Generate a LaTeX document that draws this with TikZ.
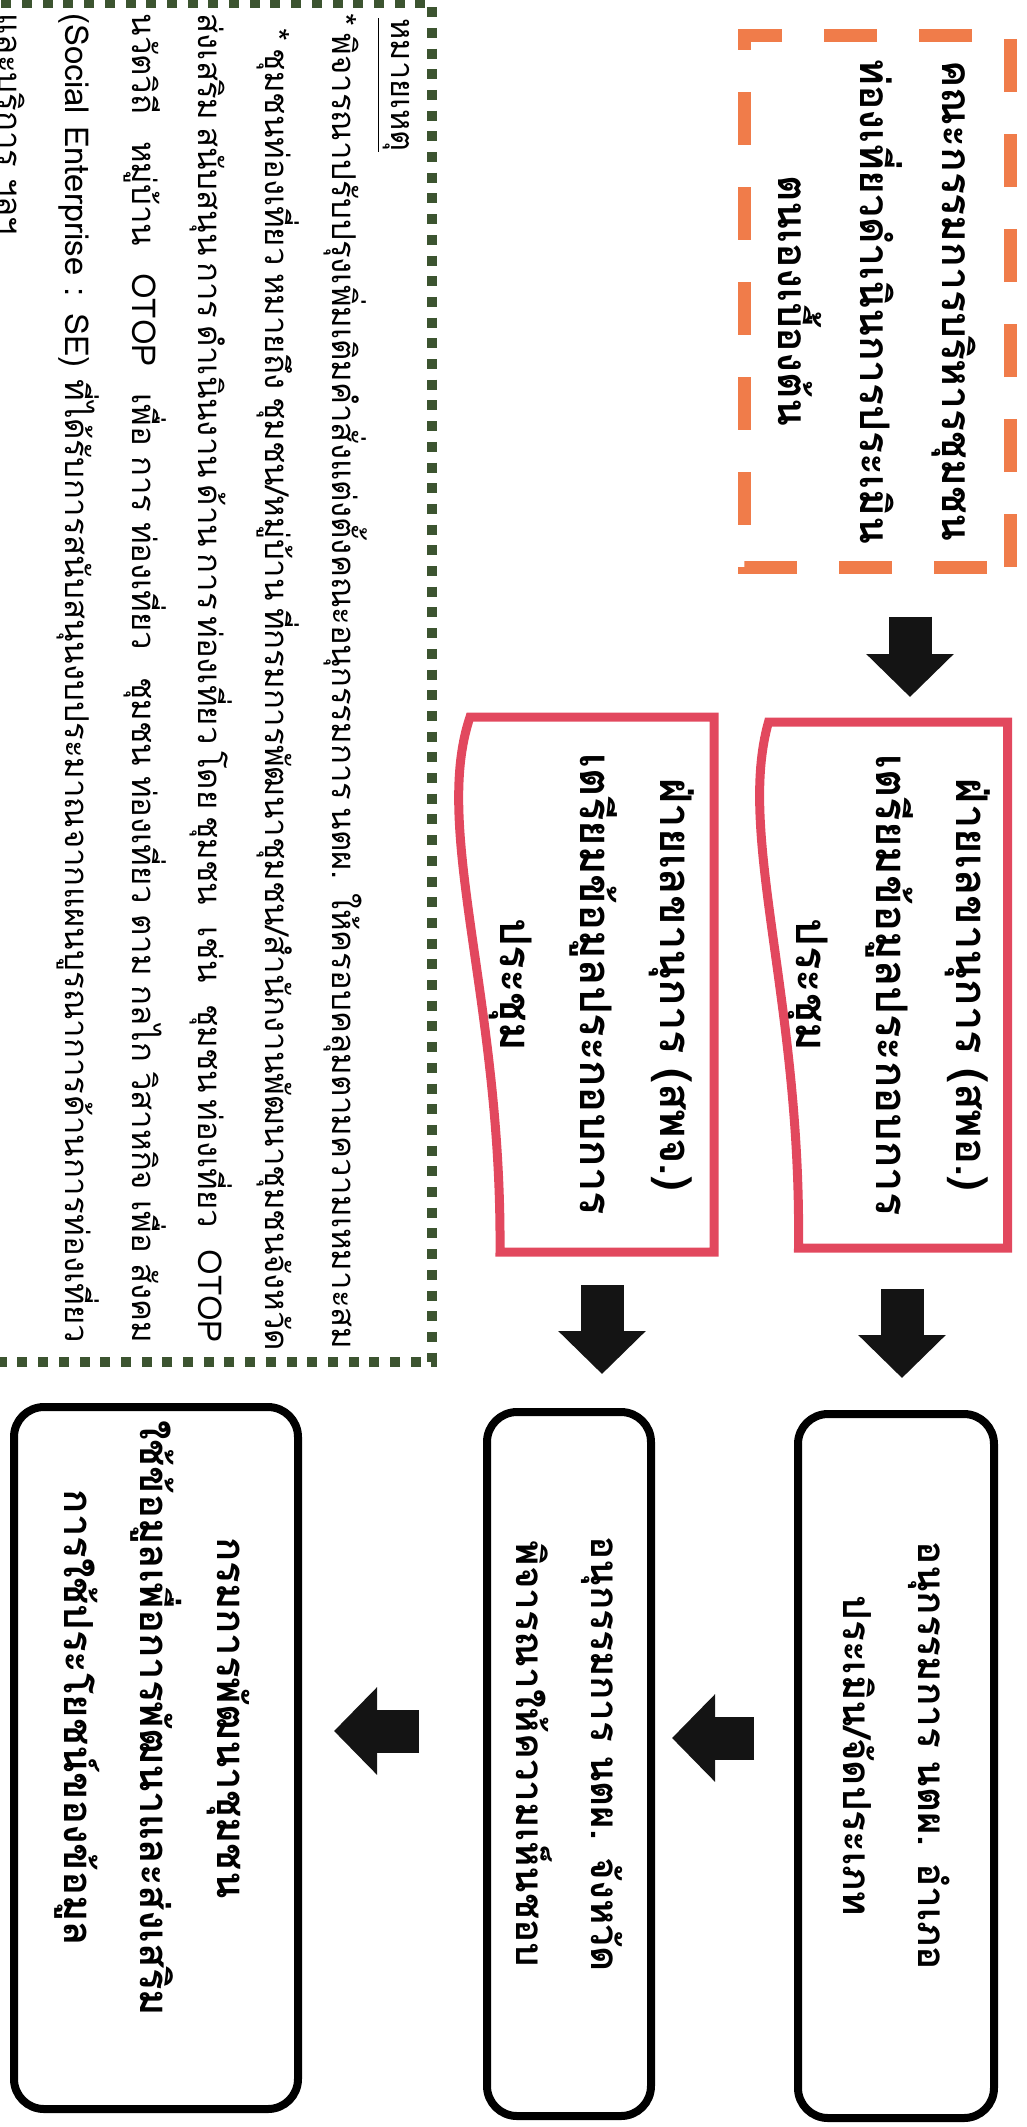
\documentclass[tikz,border=0pt]{standalone}
\usepackage{fontspec}
\setmainfont[Script=Thai]{Loma}
\usetikzlibrary{calc,arrows.meta}
\definecolor{commorange}{RGB}{240,124,74}
\definecolor{secred}{RGB}{226,72,94}
\definecolor{notegreen}{RGB}{60,84,48}
\def\drawblock{\draw[blockarrow]}
\def\drawsec{\draw[secline]}
\def\flownode{\node[flowbox]}
\def\secnode{\node[secbox]}
\def\noteline#1{\makebox[132.9mm][s]{#1}}
\def\jw{\hskip0pt plus 1pt\relax}
% lines of a box, with room left after them
\def\padtext#1#2{\begin{tabular}{@{}c@{\hspace{#1}}}#2\end{tabular}}

\begin{document}
\begin{tikzpicture}[x=0.1mm, y=0.1mm, rotate=-90, transform shape,
  flowbox/.style={font=\fontsize{11}{21.4}\selectfont\bfseries, draw=black, line width=0.8mm, rounded corners=3mm, inner sep=0pt},
  secbox/.style={font=\fontsize{12.4}{22.8}\selectfont\bfseries, align=center, inner sep=0pt, outer sep=0pt},
  secline/.style={draw=secred, line width=0.9mm, line join=miter},
  commbox/.style={font=\fontsize{11.6}{23.3}\selectfont\bfseries, draw=commorange, line width=1.3mm, dash pattern=on 5.3mm off 4.2mm, align=center, inner sep=0pt},
  notebox/.style={draw=notegreen, line width=1mm, dash pattern=on 1mm off 1.07mm},
  blockarrow/.style={line width=4.3mm, draw=black!92, -{Triangle[width=8.5mm, length=4.3mm]}}]
\clip (0,0) rectangle (2127,1026);
% note, cut by the page edge
\draw[notebox] (3,-40) rectangle (1362,432);
\node[anchor=west, font=\fontsize{9.2}{18}\selectfont] (notehead) at (6,393) {\underline{หมายเหตุ}};
\node[anchor=north west, align=left, inner sep=0pt, font=\fontsize{9.35}{19}\selectfont] (notetext) at (13,368) {%
\noteline{* พิจารณาปรับปรุงเพิ่มเติมคำสั่งแต่งตั้งคณะอนุกรรมการ นตผ. ให้ครอบคลุมตามความเหมาะสม}\\
\hspace*{1.5mm}\makebox[131.4mm][s]{* ชุมชนท่องเที่ยว หมายถึง ชุมชน/หมู่บ้าน ที่กรมการพัฒนาชุมชน/สำนักงานพัฒนาชุมชนจังหวัด}\\
\noteline{ส่งเสริม\jw สนับสนุน\jw การ\jw ดำเนินงาน\jw ด้าน\jw การ\jw ท่องเที่ยว\jw โดย\jw ชุมชน เช่น ชุมชน\jw ท่องเที่ยว OTOP}\\
\noteline{นวัตวิถี หมู่บ้าน OTOP เพื่อ\jw การ\jw ท่องเที่ยว ชุมชน\jw ท่องเที่ยว\jw ตาม\jw กลไก\jw วิสาหกิจ\jw เพื่อ\jw สังคม}\\
\noteline{(Social Enterprise : SE) ที่\jw ได้รับ\jw การ\jw สนับสนุน\jw งบประมาณ\jw จาก\jw แผน\jw บูรณาการ\jw ด้าน\jw การ\jw ท่องเที่ยว}\\
และบริการ ฯลฯ};
% community committee
\node[commbox, minimum width=53.2mm, minimum height=26.6mm] (comm) at (301,877)
  {คณะกรรมการบริหารชุมชน\\ท่องเที่ยวดำเนินการประเมิน\\ตนเองเบื้องต้น};
% secretariat boxes
\secnode[minimum width=52.6mm, minimum height=23.9mm] (sec1) at (985,888)
  {ฝ่ายเลขานุการ (สพอ.)\\เตรียมข้อมูลประกอบการ\\ประชุม};
\secnode[minimum width=53.5mm, minimum height=24.4mm] (sec2) at (984.5,592)
  {ฝ่ายเลขานุการ (สพจ.)\\เตรียมข้อมูลประกอบการ\\ประชุม};
\drawsec (sec1.south west) .. controls ($(sec1.south west)+(113,-32)$) and ($(sec1.south east)+(-248,33)$) .. ($(sec1.south east)+(0,30)$)
  -- (sec1.north east) -- (sec1.north west) -- cycle;
\drawsec (sec2.south west) .. controls ($(sec2.south west)+(113,-38)$) and ($(sec2.south east)+(-252,32)$) .. ($(sec2.south east)+(0,30)$)
  -- (sec2.north east) -- (sec2.north west) -- cycle;
% subcommittees and department
\flownode[minimum width=70.4mm, minimum height=19.6mm] (amphoe) at (1766,896)
  {\padtext{2mm}{อนุกรรมการ นตผ. อำเภอ\\ประเมิน/จัดประเภท}};
\flownode[minimum width=70.4mm, minimum height=16.4mm] (changwat) at (1764,569)
  {\padtext{2mm}{อนุกรรมการ นตผ. จังหวัด\\พิจารณาให้ความเห็นชอบ}};
\flownode[minimum width=70.2mm, minimum height=28.4mm, font=\fontsize{11.4}{21.8}\selectfont\bfseries] (dept) at (1758,156)
  {\padtext{8mm}{กรมการพัฒนาชุมชน\\ใช้ข้อมูลเพื่อการพัฒนาและส่งเสริม\\การใช้ประโยชน์ของข้อมูล}};
% flow
\drawblock ($(comm.east)+(43,33)$) -- ($(sec1.west)+(-25,22)$);
\drawblock ($(sec1.east)+(41,14)$) -- ($(amphoe.west)+(-32,6)$);
\drawblock ($(sec2.east)+(33,10)$) -- ($(changwat.west)+(-34,33)$);
\drawblock ($(amphoe.south)+(-28,-40)$) -- ($(changwat.north)+(-26,17)$);
\drawblock ($(changwat.south)+(-33,-64)$) -- ($(dept.north)+(-27,32)$);
\end{tikzpicture}
\end{document}
